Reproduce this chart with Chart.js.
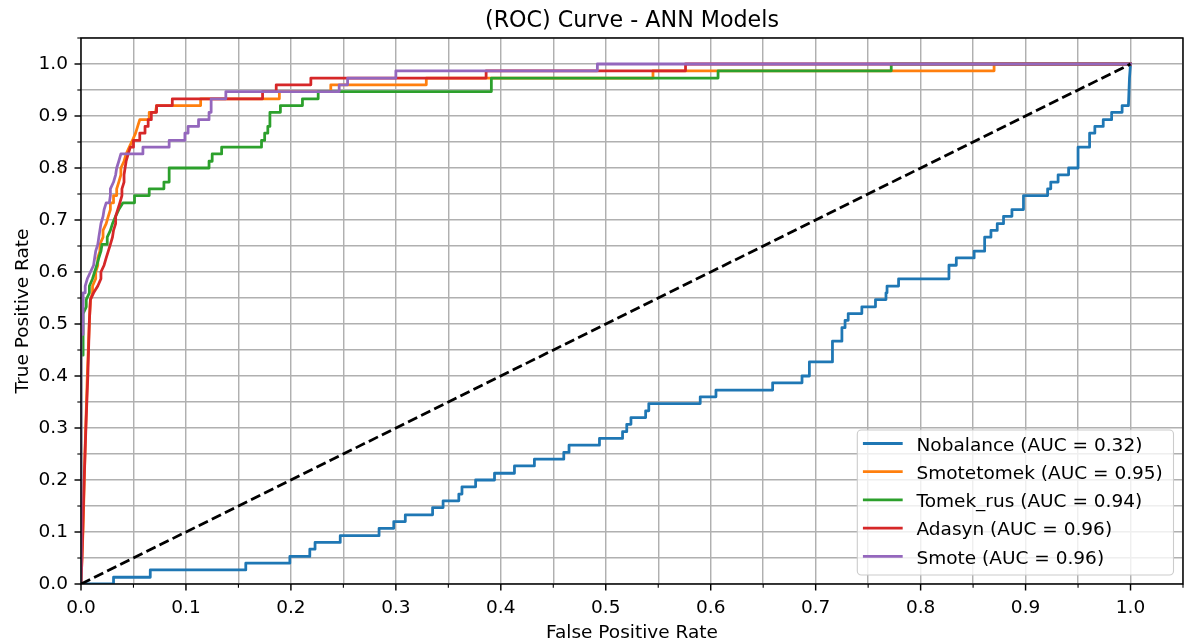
<!DOCTYPE html>
<html><head><meta charset="utf-8">
<script src="https://cdn.jsdelivr.net/npm/chart.js@4.4.1/dist/chart.umd.min.js"></script>
<style>html,body{margin:0;padding:0;background:#fff}canvas{display:block}</style>
</head><body>
<canvas id="c" width="1184" height="642"></canvas>
<script>
// ---------- data ----------
const chartTitle = '(ROC) Curve - ANN Models';
const xAxisTitle = 'False Positive Rate';
const yAxisTitle = 'True Positive Rate';

const tickValues = [0,0.05,0.1,0.15,0.2,0.25,0.3,0.35,0.4,0.45,0.5,0.55,0.6,0.65,0.7,0.75,0.8,0.85,0.9,0.95,1.0,1.05];
const tickLabels = ['0.0','','0.1','','0.2','','0.3','','0.4','','0.5','','0.6','','0.7','','0.8','','0.9','','1.0',''];

const seriesNames = ['Nobalance (AUC = 0.32)','Smotetomek (AUC = 0.95)','Tomek_rus (AUC = 0.94)','Adasyn (AUC = 0.96)','Smote (AUC = 0.96)'];
const seriesColors = ['#1f77b4','#ff7f0e','#2ca02c','#d62728','#9467bd'];

const nobalanceFpr = [0,0.031,0.031,0.066,0.066,0.157,0.157,0.199,0.199,0.218,0.218,0.223,0.223,0.247,0.247,0.284,0.284,0.298,0.298,0.309,0.309,0.335,0.335,0.345,0.345,0.36,0.36,0.363,0.363,0.376,0.376,0.394,0.394,0.413,0.413,0.432,0.432,0.46,0.46,0.465,0.465,0.494,0.494,0.516,0.516,0.52,0.52,0.524,0.524,0.538,0.538,0.541,0.541,0.59,0.59,0.605,0.605,0.659,0.659,0.687,0.687,0.694,0.694,0.716,0.716,0.725,0.725,0.728,0.728,0.731,0.731,0.744,0.744,0.757,0.757,0.767,0.767,0.768,0.768,0.779,0.779,0.827,0.827,0.834,0.834,0.851,0.851,0.861,0.861,0.867,0.867,0.873,0.873,0.879,0.879,0.887,0.887,0.898,0.898,0.921,0.921,0.924,0.924,0.931,0.931,0.941,0.941,0.95,0.95,0.961,0.961,0.966,0.966,0.974,0.974,0.982,0.982,0.992,0.992,0.998,0.999,1];
const nobalanceTpr = [0,0,0.013,0.013,0.027,0.027,0.04,0.04,0.053,0.053,0.067,0.067,0.08,0.08,0.093,0.093,0.107,0.107,0.12,0.12,0.133,0.133,0.147,0.147,0.16,0.16,0.173,0.173,0.187,0.187,0.2,0.2,0.213,0.213,0.227,0.227,0.24,0.24,0.253,0.253,0.267,0.267,0.28,0.28,0.293,0.293,0.307,0.307,0.32,0.32,0.333,0.333,0.347,0.347,0.36,0.36,0.373,0.373,0.387,0.387,0.4,0.4,0.427,0.427,0.467,0.467,0.493,0.493,0.507,0.507,0.52,0.52,0.533,0.533,0.547,0.547,0.56,0.56,0.573,0.573,0.587,0.587,0.613,0.613,0.627,0.627,0.64,0.64,0.667,0.667,0.68,0.68,0.693,0.693,0.707,0.707,0.72,0.72,0.747,0.747,0.76,0.76,0.773,0.773,0.787,0.787,0.8,0.8,0.84,0.84,0.867,0.867,0.88,0.88,0.893,0.893,0.907,0.907,0.92,0.92,0.973,1];

const smotetomekFpr = [0,0.002,0.004,0.006,0.008,0.009,0.011,0.011,0.014,0.014,0.016,0.016,0.018,0.018,0.021,0.021,0.024,0.026,0.028,0.028,0.031,0.031,0.034,0.034,0.036,0.038,0.038,0.041,0.043,0.046,0.049,0.052,0.054,0.056,0.065,0.065,0.071,0.072,0.114,0.114,0.189,0.189,0.238,0.238,0.329,0.329,0.545,0.545,0.87,0.87,1];
const smotetomekTpr = [0,0.107,0.267,0.4,0.507,0.547,0.56,0.573,0.587,0.6,0.613,0.627,0.64,0.653,0.667,0.68,0.693,0.707,0.72,0.733,0.733,0.747,0.747,0.76,0.773,0.787,0.8,0.813,0.827,0.84,0.853,0.867,0.88,0.893,0.893,0.907,0.907,0.92,0.92,0.933,0.933,0.947,0.947,0.96,0.96,0.973,0.973,0.987,0.987,1,1];

const tomekRusFpr = [0,0,0.002,0.002,0.005,0.005,0.008,0.008,0.011,0.013,0.015,0.017,0.019,0.02,0.025,0.025,0.028,0.03,0.033,0.036,0.04,0.051,0.051,0.065,0.065,0.079,0.079,0.084,0.084,0.122,0.122,0.125,0.125,0.134,0.134,0.172,0.172,0.175,0.175,0.178,0.178,0.18,0.18,0.19,0.19,0.211,0.211,0.226,0.226,0.391,0.391,0.607,0.607,0.772,0.772,1];
const tomekRusTpr = [0,0.44,0.44,0.52,0.533,0.547,0.56,0.573,0.587,0.6,0.613,0.627,0.64,0.653,0.653,0.667,0.68,0.693,0.707,0.72,0.733,0.733,0.747,0.747,0.76,0.76,0.773,0.773,0.8,0.8,0.813,0.813,0.827,0.827,0.84,0.84,0.853,0.853,0.867,0.867,0.88,0.88,0.907,0.907,0.92,0.92,0.933,0.933,0.947,0.947,0.973,0.973,0.987,0.987,1,1];

const adasynFpr = [0,0.001,0.003,0.005,0.0065,0.008,0.009,0.012,0.016,0.019,0.019,0.022,0.024,0.026,0.028,0.03,0.031,0.033,0.033,0.035,0.037,0.039,0.039,0.041,0.041,0.042,0.043,0.045,0.047,0.05,0.05,0.056,0.056,0.061,0.061,0.064,0.064,0.067,0.067,0.072,0.072,0.087,0.087,0.173,0.173,0.186,0.186,0.219,0.219,0.386,0.386,0.576,0.576,1];
const adasynTpr = [0,0.053,0.2,0.32,0.4,0.507,0.547,0.56,0.573,0.587,0.6,0.613,0.627,0.64,0.653,0.667,0.68,0.693,0.707,0.72,0.733,0.747,0.76,0.773,0.787,0.8,0.813,0.827,0.84,0.84,0.853,0.853,0.867,0.867,0.88,0.88,0.893,0.893,0.907,0.907,0.92,0.92,0.933,0.933,0.947,0.947,0.96,0.96,0.973,0.973,0.987,0.987,1,1];

const smoteFpr = [0,0,0.002,0.002,0.004,0.004,0.006,0.009,0.012,0.013,0.014,0.016,0.017,0.018,0.019,0.021,0.022,0.024,0.027,0.028,0.028,0.031,0.033,0.034,0.036,0.038,0.059,0.059,0.084,0.084,0.099,0.099,0.102,0.102,0.112,0.112,0.122,0.122,0.124,0.124,0.138,0.138,0.246,0.246,0.254,0.254,0.3,0.3,0.492,0.492,1];
const smoteTpr = [0,0.48,0.48,0.56,0.56,0.573,0.587,0.6,0.613,0.627,0.64,0.653,0.667,0.68,0.693,0.707,0.72,0.733,0.733,0.747,0.76,0.773,0.787,0.8,0.813,0.827,0.827,0.84,0.84,0.853,0.853,0.867,0.867,0.88,0.88,0.893,0.893,0.907,0.907,0.933,0.933,0.947,0.947,0.96,0.96,0.973,0.973,0.987,0.987,1,1];

const chanceFpr = [0,1];
const chanceTpr = [0,1];

// ---------- styling ----------
const FS = 18.5;
const LW = 2.77;
const FONT = "'DejaVu Sans', 'Liberation Sans', sans-serif";
Chart.defaults.font.family = FONT;

function pts(fx, ty) { return fx.map((x, i) => ({x: x, y: ty[i]})); }
function curve(label, color, fx, ty) {
  return {label, data: pts(fx, ty), borderColor: color, backgroundColor: color,
    borderWidth: LW, pointRadius: 0, fill: false, tension: 0,
    borderJoinStyle: 'round', borderCapStyle: 'square', clip: 0};
}

const datasets = [
  {label: 'chance', data: pts(chanceFpr, chanceTpr), borderColor: '#000', borderWidth: LW,
   borderDash: [10.2, 4.4], pointRadius: 0, fill: false, clip: 0},
  curve(seriesNames[4], seriesColors[4], smoteFpr, smoteTpr),
  curve(seriesNames[3], seriesColors[3], adasynFpr, adasynTpr),
  curve(seriesNames[2], seriesColors[2], tomekRusFpr, tomekRusTpr),
  curve(seriesNames[1], seriesColors[1], smotetomekFpr, smotetomekTpr),
  curve(seriesNames[0], seriesColors[0], nobalanceFpr, nobalanceTpr)
];

const framePlugin = {
  id: 'frame',
  afterDatasetsDraw(chart) {
    const c = chart.ctx, a = chart.chartArea;
    const xs = chart.scales.x, ys = chart.scales.y;
    c.save();
    // tick marks
    c.strokeStyle = '#000';
    tickValues.forEach((v, i) => {
      const major = tickLabels[i] !== '';
      const len = major ? 6.5 : 3.7;
      c.lineWidth = major ? 1.45 : 1.1;
      const px = xs.getPixelForValue(v);
      c.beginPath(); c.moveTo(px, a.bottom); c.lineTo(px, a.bottom + len); c.stroke();
      const py = ys.getPixelForValue(v);
      c.beginPath(); c.moveTo(a.left, py); c.lineTo(a.left - len, py); c.stroke();
    });
    // spines
    c.lineWidth = 1.45;
    c.strokeStyle = '#000';
    c.strokeRect(a.left, a.top, a.right - a.left, a.bottom - a.top);

    // legend
    const lx = 857.3, ly = 430, lw = 316.2, lh = 145, r = 4;
    c.beginPath();
    c.moveTo(lx + r, ly); c.lineTo(lx + lw - r, ly); c.arcTo(lx + lw, ly, lx + lw, ly + r, r);
    c.lineTo(lx + lw, ly + lh - r); c.arcTo(lx + lw, ly + lh, lx + lw - r, ly + lh, r);
    c.lineTo(lx + r, ly + lh); c.arcTo(lx, ly + lh, lx, ly + lh - r, r);
    c.lineTo(lx, ly + r); c.arcTo(lx, ly, lx + r, ly, r); c.closePath();
    c.fillStyle = 'rgba(255,255,255,0.8)'; c.fill();
    c.strokeStyle = '#cccccc'; c.lineWidth = 1.1; c.stroke();
    const rows = [443.5, 471.7, 499.9, 528.1, 556.3];
    c.font = FS + 'px ' + FONT;
    c.textBaseline = 'alphabetic'; c.textAlign = 'left';
    seriesNames.forEach((n, i) => {
      c.strokeStyle = seriesColors[i]; c.lineWidth = LW; c.lineCap = 'square';
      c.beginPath(); c.moveTo(864.3, rows[i]); c.lineTo(901.3, rows[i]); c.stroke();
      c.fillStyle = '#000';
      c.fillText(n, 916.5, rows[i] + 7.2);
    });

    // title & axis titles
    c.fillStyle = '#000';
    c.textAlign = 'center';
    c.font = '22.2px ' + FONT;
    c.fillText(chartTitle, (a.left + a.right) / 2, 27);
    c.font = FS + 'px ' + FONT;
    c.fillText(xAxisTitle, (a.left + a.right) / 2, 638);
    c.translate(27.5, (a.top + a.bottom) / 2);
    c.rotate(-Math.PI / 2);
    c.fillText(yAxisTitle, 0, 0);
    c.restore();
  }
};

function axis(isX) {
  return {
    type: 'linear', min: 0, max: 1.05,
    afterBuildTicks: s => { s.ticks = tickValues.map(v => ({value: v})); },
    afterFit: s => {
      if (isX) { s.height = 58; s.paddingLeft = 0; s.paddingRight = 0; }
      else { s.width = 81; s.paddingTop = 0; s.paddingBottom = 0; }
    },
    ticks: {autoSkip: false, maxRotation: 0, padding: 13, color: '#000',
      font: {size: FS, family: FONT}, callback: (v, i) => tickLabels[i]},
    grid: {color: '#b0b0b0', lineWidth: 1.45, drawTicks: false},
    border: {display: false}
  };
}

new Chart(document.getElementById('c'), {
  type: 'line',
  data: {datasets},
  options: {
    responsive: false, animation: false, devicePixelRatio: 1,
    layout: {padding: {top: 38, right: 1, left: 0, bottom: 0}},
    plugins: {legend: {display: false}, title: {display: false}, tooltip: {enabled: false}},
    scales: {x: axis(true), y: axis(false)}
  },
  plugins: [framePlugin]
});
</script>
</body></html>
